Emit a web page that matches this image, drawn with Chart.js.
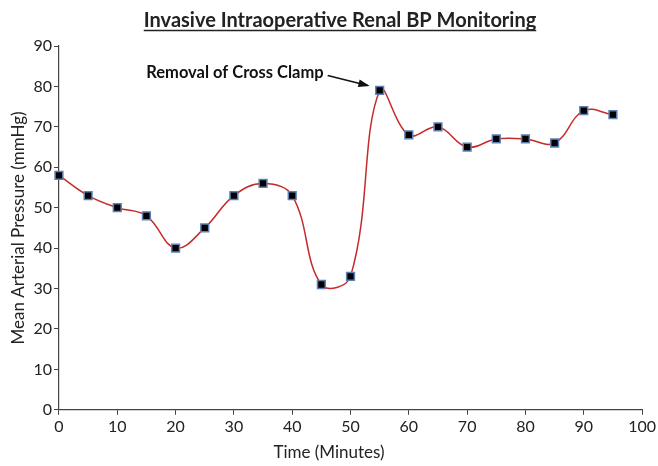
<!DOCTYPE html>
<html>
<head>
<meta charset="utf-8">
<script src="https://cdn.jsdelivr.net/npm/chart.js@4"></script>
<style>
  html, body { margin: 0; padding: 0; background: #fff; }
  #wrap { width: 658px; height: 466px; }
</style>
</head>
<body>
<div id="wrap"><canvas id="chart" width="658" height="466"></canvas></div>
<script>
const minutes = [0, 5, 10, 15, 20, 25, 30, 35, 40, 45, 50, 55, 60, 65, 70, 75, 80, 85, 90, 95];
const pressure = [58, 53, 50, 48, 40, 45, 53, 56, 53, 31, 33, 79, 68, 70, 65, 67, 67, 66, 74, 73];

const chartTitle = 'Invasive Intraoperative Renal BP Monitoring';
const xTitle = 'Time (Minutes)';
const noteText = 'Removal of Cross Clamp';
const noteIndex = 11;

const FONT = 'Lato, "Open Sans", sans-serif';

const extras = {
  id: 'extras',
  afterDraw(chart) {
    const ctx = chart.ctx;
    ctx.save();
    // title, underlined
    ctx.font = 'bold 20px ' + FONT;
    ctx.fillStyle = '#222';
    ctx.textAlign = 'center';
    ctx.textBaseline = 'alphabetic';
    const tx = 340, ty = 27;
    ctx.fillText(chartTitle, tx, ty);
    const w = ctx.measureText(chartTitle).width;
    ctx.strokeStyle = '#222';
    ctx.lineWidth = 1.5;
    ctx.beginPath();
    ctx.moveTo(tx - w / 2, ty + 3.5);
    ctx.lineTo(tx + w / 2, ty + 3.5);
    ctx.stroke();

    // x axis title (centred on the whole picture, as in the original)
    ctx.font = '17px ' + FONT;
    ctx.textBaseline = 'middle';
    ctx.fillText(xTitle, 329, 453);

    // annotation arrow pointing at the clamp removal point
    const px = chart.scales.x.getPixelForValue(minutes[noteIndex]);
    const py = chart.scales.y.getPixelForValue(pressure[noteIndex]);
    const ex = px - 12, ey = py - 5;
    const sx = px - 52, sy = py - 15;
    ctx.strokeStyle = '#111';
    ctx.fillStyle = '#111';
    ctx.lineWidth = 1.6;
    ctx.beginPath();
    ctx.moveTo(sx, sy);
    ctx.lineTo(ex, ey);
    ctx.stroke();
    const ang = Math.atan2(ey - sy, ex - sx);
    ctx.beginPath();
    ctx.moveTo(ex + 2, ey + 0.5);
    ctx.lineTo(ex - 10 * Math.cos(ang - 0.4), ey - 10 * Math.sin(ang - 0.4));
    ctx.lineTo(ex - 10 * Math.cos(ang + 0.4), ey - 10 * Math.sin(ang + 0.4));
    ctx.closePath();
    ctx.fill();

    ctx.font = 'bold 16.5px ' + FONT;
    ctx.fillStyle = '#111';
    ctx.textAlign = 'right';
    ctx.textBaseline = 'middle';
    ctx.fillText(noteText, sx - 4, sy - 3);
    ctx.restore();
  }
};

new Chart(document.getElementById('chart'), {
  type: 'line',
  data: {
    datasets: [{
      data: minutes.map((m, i) => ({ x: m, y: pressure[i] })),
      borderColor: '#c62a2a',
      borderWidth: 1.5,
      tension: 0.4,
      pointStyle: 'rect',
      pointRadius: 5.5,
      pointBackgroundColor: '#000',
      pointBorderColor: '#5f80b4',
      pointBorderWidth: 1.5,
      clip: false
    }]
  },
  options: {
    responsive: false,
    animation: false,
    layout: { padding: { top: 46, right: 10, left: 4, bottom: 28 } },
    plugins: {
      legend: { display: false },
      tooltip: { enabled: false }
    },
    scales: {
      x: {
        type: 'linear',
        min: 0,
        max: 100,
        ticks: { stepSize: 10, color: '#222', font: { family: FONT, size: 16 }, padding: 2 },
        grid: { drawOnChartArea: false, drawTicks: true, tickLength: 5, color: '#444' },
        border: { color: '#444', width: 1.2 }
      },
      y: {
        min: 0,
        max: 90,
        ticks: { stepSize: 10, color: '#222', font: { family: FONT, size: 16 }, padding: 2 },
        grid: { drawOnChartArea: false, drawTicks: true, tickLength: 5, color: '#444' },
        border: { color: '#444', width: 1.2 },
        title: { display: true, text: 'Mean Arterial Pressure (mmHg)', color: '#222', font: { family: FONT, size: 17 }, padding: { bottom: 3 } }
      }
    }
  },
  plugins: [extras]
});
</script>
</body>
</html>
